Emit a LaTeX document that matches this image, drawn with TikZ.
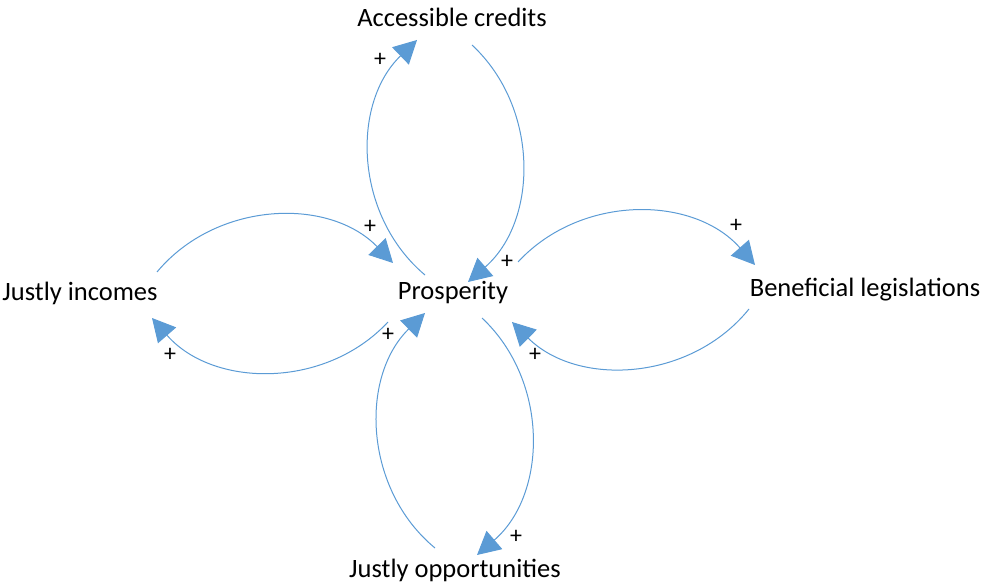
\documentclass[tikz,border=0pt]{standalone}
\usepackage{fontspec}
\setmainfont{Carlito}
\usetikzlibrary{arrows.meta}
\definecolor{linkblue}{HTML}{5B9BD5}
\begin{document}
\begin{tikzpicture}[x=1pt,y=1pt,
  label/.style={font=\fontsize{26.5}{30}\selectfont, inner sep=0pt},
  sign/.style={font=\fontsize{24}{28}\selectfont, inner sep=0pt},
  link/.style={draw=linkblue, line width=1pt,
    -{Triangle[length=23pt,width=24pt,fill=linkblue]}, bend left=48}]
\useasboundingbox (0,0) rectangle (982,583);

% variables
\node[label] (ac) at (452,566) {Accessible credits};
\node[label] (pr) at (453,290) {Prosperity};
\node[label] (ji) at (80,290) {Justly incomes};
\node[label] (bl) at (865,293) {Beneficial legislations};
\node[label] (jo) at (455,13) {Justly opportunities};

% link end points
\coordinate (a1s) at (425,308); \coordinate (a1e) at (417,543);
\coordinate (a2s) at (472,538); \coordinate (a2e) at (468,301);
\coordinate (a3s) at (157,311); \coordinate (a3e) at (393,320);
\coordinate (a4s) at (388,261); \coordinate (a4e) at (152,265);
\coordinate (a5s) at (518,321); \coordinate (a5e) at (755,318);
\coordinate (a6s) at (749,274); \coordinate (a6e) at (512,261);
\coordinate (a7s) at (435,35);  \coordinate (a7e) at (425,270);
\coordinate (a8s) at (482,265); \coordinate (a8e) at (477,28);

% causal links
\draw[link] (a1s) to (a1e);
\draw[link] (a2s) to (a2e);
\draw[link] (a3s) to (a3e);
\draw[link] (a4s) to (a4e);
\draw[link] (a5s) to (a5e);
\draw[link] (a6s) to (a6e);
\draw[link] (a7s) to (a7e);
\draw[link] (a8s) to (a8e);

% polarities
\node[sign] (s1) at (380,523) {+};
\node[sign] (s2) at (507,321) {+};
\node[sign] (s3) at (370,356) {+};
\node[sign] (s4) at (170,228) {+};
\node[sign] (s5) at (736,357) {+};
\node[sign] (s6) at (535,228) {+};
\node[sign] (s7) at (388,248) {+};
\node[sign] (s8) at (516,46) {+};
\end{tikzpicture}
\end{document}
